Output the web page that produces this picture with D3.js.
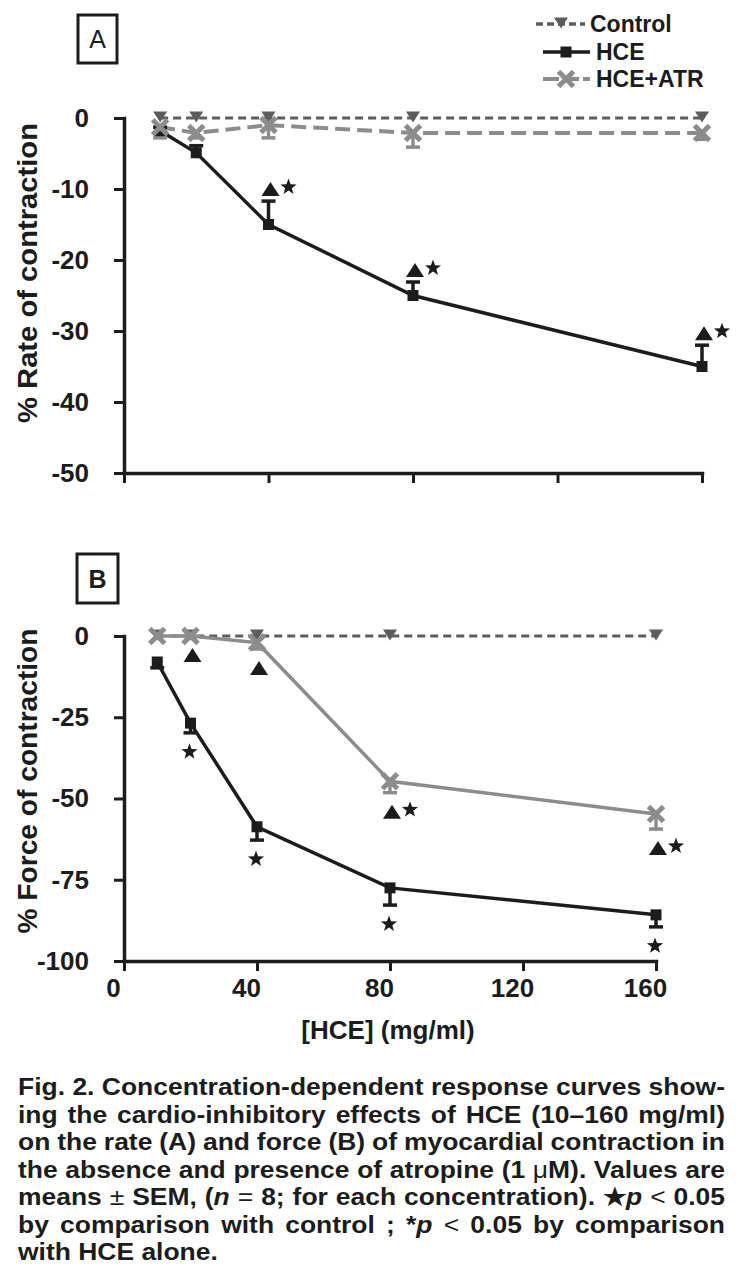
<!DOCTYPE html>
<html><head><meta charset="utf-8">
<script src="https://cdn.jsdelivr.net/npm/d3@7"></script>
<style>
body{margin:0;background:#fff}
svg{display:block}
text{font-family:"Liberation Sans",Arial,Helvetica,sans-serif;fill:#1c1c1c}
</style>
</head><body>
<svg id="chart" width="746" height="1274"></svg>
<script>
// ---------- data ----------
const concentrations = [10, 20, 40, 80, 160];
const xTickValues = [0, 40, 80, 120, 160];
const rateTickValues = [0, -10, -20, -30, -40, -50];
const forceTickValues = [0, -25, -50, -75, -100];
const seriesNames = ["Control", "HCE", "HCE+ATR"];

// Panel A: % rate of contraction
const rateControl = [0, 0, 0, 0, 0];
const rateHCE = [-1.8, -4.9, -15.0, -25.0, -35.0];
const rateHCESem = [0.5, 1.0, 3.3, 1.9, 3.0];
const rateATR = [-1.3, -2.1, -1.0, -2.1, -2.1];
const rateATRSem = [1.5, 0.7, 1.8, 2.0, 0.9];

// Panel B: % force of contraction
const forceControl = [0, 0, 0, 0, 0];
const forceHCE = [-8.0, -26.8, -58.7, -77.5, -85.8];
const forceHCESem = [1.8, 3.0, 4.1, 5.3, 3.7];
const forceATR = [0, 0, -2.0, -44.7, -54.8];
const forceATRSem = [0, 0, 2.0, 3.5, 4.6];

// significance marks (▲ = vs HCE alone, ★ = vs control)
const rateSignifConc = [40, 80, 160];
const rateSignifSeries = ["HCE", "HCE", "HCE"];
const rateSignifMarks = ["▲★", "▲★", "▲★"];
const forceSignifConc = [20, 40, 80, 160, 20, 40, 80, 160];
const forceSignifSeries = ["HCE+ATR", "HCE+ATR", "HCE+ATR", "HCE+ATR", "HCE", "HCE", "HCE", "HCE"];
const forceSignifMarks = ["▲", "▲", "▲★", "▲★", "★", "★", "★", "★"];

const captionLines = [
  [["Fig. 2. Concentration-dependent response curves show-"]],
  [["ing the cardio-inhibitory effects of HCE (10–160 mg/ml)"]],
  [["on the rate (A) and force (B) of myocardial contraction in"]],
  [["the absence and presence of atropine (1 "], ["μ", "l"], ["M). Values are"]],
  [["means "], ["±", "l"], [" SEM, ("], ["n", "i"], [" "], ["=", "l"], [" 8; for each concentration). ★"], ["p", "i"], [" "], ["<", "l"], [" 0.05"]],
  [["by comparison with control ; *"], ["p", "i"], [" "], ["<", "l"], [" 0.05 by comparison"]],
  [["with HCE alone."]]
];

// ---------- styles ----------
const COL = {Control: "#5c5c5c", HCE: "#1c1c1c", "HCE+ATR": "#8c8c8c"};
const svg = d3.select("#chart");

function starPath(cx, cy, R, r) {
  let p = "";
  for (let i = 0; i < 10; i++) {
    const a = -Math.PI / 2 + i * Math.PI / 5;
    const rr = i % 2 === 0 ? R : r;
    p += (i ? "L" : "M") + (cx + rr * Math.cos(a)).toFixed(2) + "," + (cy + rr * Math.sin(a)).toFixed(2);
  }
  return p + "Z";
}
function triUp(cx, cy) { return `M${cx-9},${cy+7}L${cx+9},${cy+7}L${cx},${cy-7}Z`; }
function triDown(cx, cy, w, h) { return `M${cx-w/2},${cy-h/2}L${cx+w/2},${cy-h/2}L${cx},${cy+h/2}Z`; }

function drawMarker(g, kind, cx, cy) {
  if (kind === "Control") {
    g.append("path").attr("d", triDown(cx, cy - 1, 14, 11)).attr("fill", COL.Control);
  } else if (kind === "HCE") {
    g.append("rect").attr("x", cx - 5.5).attr("y", cy - 5.5).attr("width", 11).attr("height", 11).attr("fill", COL.HCE);
  } else {
    const s = 7.5;
    g.append("path").attr("d", `M${cx-s},${cy-s}L${cx+s},${cy+s}M${cx-s},${cy+s}L${cx+s},${cy-s}`)
      .attr("stroke", COL["HCE+ATR"]).attr("stroke-width", 5).attr("fill", "none");
  }
}

function drawPanel(cfg) {
  const x = d3.scaleLinear().domain([0, 160]).range(cfg.xRange);
  const y = d3.scaleLinear().domain(cfg.yDomain).range(cfg.yRange);
  const g = svg.append("g");

  // axes
  const ya = g.append("g").attr("transform", `translate(${cfg.xRange[0]},0)`)
    .call(d3.axisLeft(y).tickValues(cfg.yTicks).tickSize(10).tickSizeOuter(0).tickPadding(25).tickFormat(d => String(d)));
  const xa = g.append("g").attr("transform", `translate(0,${cfg.yRange[1]})`)
    .call(d3.axisBottom(x).tickValues(xTickValues).tickSize(10).tickSizeOuter(0).tickPadding(8)
      .tickFormat(cfg.xLabels ? (d => String(d)) : () => ""));
  [ya, xa].forEach(a => {
    a.select(".domain").attr("stroke", "#1c1c1c").attr("stroke-width", 3.5).attr("stroke-linecap", "square");
    a.selectAll(".tick line").attr("stroke", "#1c1c1c").attr("stroke-width", 3);
    a.selectAll(".tick text").attr("font-size", 26).attr("font-weight", "bold").attr("fill", "#1c1c1c")
      .attr("font-family", '"Liberation Sans",Arial,sans-serif');
  });
  xa.selectAll(".tick text").attr("dx", -11);

  // y title
  g.append("text").attr("transform", `translate(37,${cfg.titleMid}) rotate(-90)`).attr("text-anchor", "middle")
    .attr("font-size", 27).attr("font-weight", "bold").attr("textLength", cfg.titleLen).attr("lengthAdjust", "spacingAndGlyphs")
    .text(cfg.title);

  // panel letter
  g.append("rect").attr("x", cfg.box[0]).attr("y", cfg.box[1]).attr("width", cfg.box[2]).attr("height", cfg.box[3])
    .attr("fill", "#fff").attr("stroke", "#1c1c1c").attr("stroke-width", 3);
  g.append("text").attr("x", cfg.box[0] + cfg.box[2] / 2).attr("y", cfg.box[1] + cfg.box[3] / 2 + 9)
    .attr("text-anchor", "middle").attr("font-size", 25).attr("font-weight", cfg.letterWeight).text(cfg.letter);

  const line = d3.line().x((d, i) => x(concentrations[i])).y(d => y(d));
  const series = cfg.series;

  series.forEach(s => {
    g.append("path").datum(s.values).attr("d", line).attr("fill", "none")
      .attr("stroke", COL[s.name]).attr("stroke-width", s.width).attr("stroke-dasharray", s.dash || null);
  });
  series.forEach(s => {
    if (!s.sem) return;
    s.values.forEach((v, i) => {
      const se = s.sem[i];
      if (!se) return;
      const cx = x(concentrations[i]);
      const y0 = y(v), y1 = y(v + s.errSign * se);
      g.append("line").attr("x1", cx).attr("x2", cx).attr("y1", y0).attr("y2", y1)
        .attr("stroke", COL[s.name]).attr("stroke-width", 3.5);
      g.append("line").attr("x1", cx - 7).attr("x2", cx + 7).attr("y1", y1).attr("y2", y1)
        .attr("stroke", COL[s.name]).attr("stroke-width", 3.5);
    });
  });
  series.forEach(s => {
    s.values.forEach((v, i) => drawMarker(g, s.name, x(concentrations[i]), y(v)));
  });

  cfg.signifConc.forEach((c, k) => {
    const s = series.find(d => d.name === cfg.signifSeries[k]);
    const i = concentrations.indexOf(c);
    const cx = x(c);
    const capY = y(s.values[i] + s.errSign * (s.sem ? s.sem[i] : 0));
    const marks = cfg.signifMarks[k];
    const dir = s.errSign > 0 ? -1 : 1;
    if (marks.includes("▲")) {
      const ty = capY + dir * (dir < 0 ? 12 : 19);
      g.append("path").attr("d", triUp(cx + 2, ty)).attr("fill", "#1c1c1c");
      if (marks.includes("★")) g.append("path").attr("d", starPath(cx + 20, ty - 2, 8.5, 3.5)).attr("fill", "#1c1c1c");
    } else {
      g.append("path").attr("d", starPath(cx - 1, capY + 19, 8.5, 3.5)).attr("fill", "#1c1c1c");
    }
  });
}

drawPanel({
  xRange: [124, 702], yDomain: [0, -50], yRange: [118, 473], yTicks: rateTickValues, xLabels: false,
  title: "% Rate of contraction", titleMid: 273, titleLen: 300,
  box: [78, 15, 39, 48], letter: "A", letterWeight: "normal",
  series: [
    {name: "Control", values: rateControl, width: 3, dash: "8,5"},
    {name: "HCE", values: rateHCE, sem: rateHCESem, errSign: 1, width: 3.5},
    {name: "HCE+ATR", values: rateATR, sem: rateATRSem, errSign: -1, width: 4, dash: "15,7"}
  ],
  signifConc: rateSignifConc, signifSeries: rateSignifSeries, signifMarks: rateSignifMarks
});

drawPanel({
  xRange: [124, 656], yDomain: [0, -100], yRange: [636, 961], yTicks: forceTickValues, xLabels: true,
  title: "% Force of contraction", titleMid: 781, titleLen: 305,
  box: [77, 554, 41, 49], letter: "B", letterWeight: "bold",
  series: [
    {name: "Control", values: forceControl, width: 3, dash: "8,5"},
    {name: "HCE", values: forceHCE, sem: forceHCESem, errSign: -1, width: 3.5},
    {name: "HCE+ATR", values: forceATR, sem: forceATRSem, errSign: -1, width: 3.5}
  ],
  signifConc: forceSignifConc, signifSeries: forceSignifSeries, signifMarks: forceSignifMarks
});

// x-axis title
svg.append("text").attr("x", 388).attr("y", 1039).attr("text-anchor", "middle")
  .attr("font-size", 26).attr("font-weight", "bold").text("[HCE] (mg/ml)");

// legend
const legend = svg.append("g");
const legY = [24, 52, 79];
const legLine = [[536, 585], [543, 590], [543, 590]];
const legDash = ["7,4", null, "16,4"];
const legMarkX = [561, 566, 566];
const legTextX = [590, 596, 596];
seriesNames.forEach((n, i) => {
  legend.append("line").attr("x1", legLine[i][0]).attr("x2", legLine[i][1]).attr("y1", legY[i]).attr("y2", legY[i])
    .attr("stroke", COL[n]).attr("stroke-width", i === 2 ? 4 : 3.5).attr("stroke-dasharray", legDash[i]);
  drawMarker(legend, n, legMarkX[i], legY[i]);
  legend.append("text").attr("x", legTextX[i]).attr("y", legY[i] + 8).attr("font-size", 23).attr("font-weight", "bold").text(n);
});

// caption: glyphs stretched horizontally (as in the print), justified by word spacing
const cap = svg.append("g");
const capX0 = 18, capX1 = 725, capBase = 1095, capStep = 27.5, capFont = 24;
const capTexts = captionLines.map((segs, li) => {
  const t = cap.append("text").attr("x", 0).attr("y", 0)
    .attr("font-size", capFont).attr("font-weight", "bold").attr("xml:space", "preserve");
  segs.forEach(sg => {
    t.append("tspan").attr("font-style", sg[1] === "i" ? "italic" : null)
      .attr("font-weight", sg[1] === "l" ? "normal" : null).text(sg[0]);
  });
  return t;
});
const w1 = capTexts[0].node().getComputedTextLength();
const stretch = Math.min(1.2, (capX1 - capX0) / w1);
capTexts.forEach((t, li) => {
  t.attr("transform", `translate(${capX0},${capBase + li * capStep}) scale(${stretch},1)`);
  if (li < capTexts.length - 1) {
    const w = t.node().getComputedTextLength();
    const full = captionLines[li].map(s => s[0]).join("");
    const nSp = (full.match(/ /g) || []).length;
    if (nSp > 0) t.style("word-spacing", (((capX1 - capX0) / stretch - w) / nSp) + "px");
  }
});
</script>
</body></html>
